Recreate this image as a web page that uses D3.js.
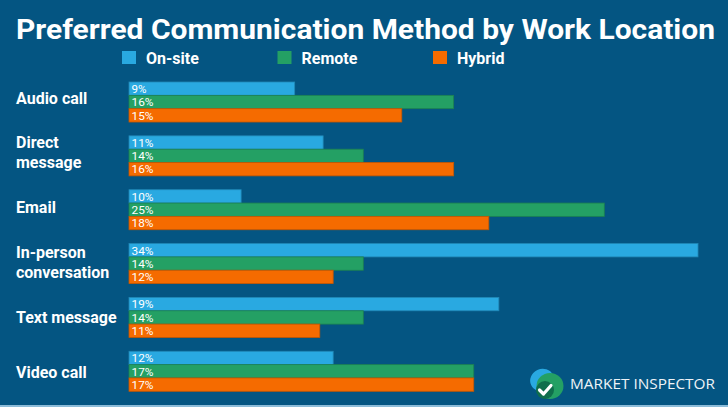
<!DOCTYPE html>
<html>
<head>
<meta charset="utf-8">
<script src="https://cdn.jsdelivr.net/npm/d3@7"></script>
<style>
  html, body { margin: 0; padding: 0; background: #045582; }
  svg { display: block; }
</style>
</head>
<body>
<div id="chart"></div>
<script>
// ---- data ----
const categories = ["Audio call", "Direct message", "Email", "In-person conversation", "Text message", "Video call"];
const seriesNames = ["On-site", "Remote", "Hybrid"];
// bar lengths as drawn in the picture (percent units)
const onsite = [9.9, 11.6, 6.7, 34.0, 22.1, 12.2];
const remote = [19.4, 14.0, 28.4, 14.0, 14.0, 20.6];
const hybrid = [16.3, 19.4, 21.5, 12.2, 11.4, 20.6];
// percentages printed on the bars
const onsiteLabels = ["9%", "11%", "10%", "34%", "19%", "12%"];
const remoteLabels = ["16%", "14%", "25%", "14%", "14%", "17%"];
const hybridLabels = ["15%", "16%", "18%", "12%", "11%", "17%"];
const seriesColors = ["#29a9e1", "#24a064", "#f56b00"];

const W = 728, H = 407;
const svg = d3.select("#chart").append("svg").attr("width", W).attr("height", H);
svg.append("rect").attr("width", W).attr("height", H).attr("fill", "#045582");

// title
const title = svg.append("text")
  .attr("x", 16).attr("y", 39)
  .attr("fill", "#ffffff")
  .style("font-family", "Roboto, 'Open Sans', sans-serif")
  .style("font-weight", 700).style("font-size", "27px")
  .text("Preferred Communication Method by Work Location");
title.attr("textLength", 699).attr("lengthAdjust", "spacingAndGlyphs");

// legend
const legendX = d3.scalePoint().domain(seriesNames).range([122, 433]);
const lg = svg.append("g").selectAll("g").data(seriesNames).join("g")
  .attr("transform", d => `translate(${legendX(d)},51)`);
lg.append("rect").attr("width", 14).attr("height", 13)
  .attr("fill", (d, i) => seriesColors[i]);
lg.append("text").attr("x", 24).attr("y", 13)
  .attr("fill", "#ffffff")
  .style("font-family", "Roboto, sans-serif").style("font-weight", 700).style("font-size", "16px")
  .text(d => d);

// scales
const x = d3.scaleLinear().domain([0, 34]).range([129, 698]);
const y = d3.scaleBand().domain(categories).range([82, 391.3]).paddingInner(0.257).paddingOuter(0);
const ySub = d3.scaleBand().domain(seriesNames).range([0, y.bandwidth()]);
const labelY = d3.scalePoint().domain(categories).range([97.5, 372]);

const rows = categories.map((c, i) => ({
  cat: c,
  bars: [
    { s: "On-site", v: onsite[i], lab: onsiteLabels[i], col: seriesColors[0] },
    { s: "Remote", v: remote[i], lab: remoteLabels[i], col: seriesColors[1] },
    { s: "Hybrid", v: hybrid[i], lab: hybridLabels[i], col: seriesColors[2] }
  ]
}));

const groups = svg.append("g").selectAll("g").data(rows).join("g")
  .attr("transform", d => `translate(0,${y(d.cat)})`);

groups.selectAll("rect").data(d => d.bars).join("rect")
  .attr("x", x(0))
  .attr("y", d => ySub(d.s))
  .attr("width", d => x(d.v) - x(0))
  .attr("height", ySub.bandwidth())
  .attr("fill", d => d.col)
  .attr("stroke", d => d3.color(d.col).darker(0.6))
  .attr("stroke-width", 0.8);

groups.selectAll("text").data(d => d.bars).join("text")
  .attr("x", x(0) + 2.5)
  .attr("y", d => ySub(d.s) + ySub.bandwidth() / 2 + 4.3)
  .attr("fill", "#ffffff")
  .style("font-family", "Roboto, sans-serif").style("font-size", "11.3px")
  .attr("textLength", d => d.lab.length === 2 ? 15 : 22)
  .attr("lengthAdjust", "spacingAndGlyphs")
  .text(d => d.lab);

// category labels
const catText = svg.append("g").selectAll("text").data(categories).join("text")
  .attr("x", 16)
  .attr("fill", "#ffffff")
  .style("font-family", "Roboto, sans-serif").style("font-weight", 700).style("font-size", "16px");
catText.each(function (d) {
  const t = d3.select(this);
  t.text(d);
  const w = this.getComputedTextLength();
  const cy = labelY(d);
  if (w > 108) {
    const k = d.lastIndexOf(" ");
    const lines = [d.slice(0, k), d.slice(k + 1)];
    t.text(null);
    lines.forEach((ln, j) => {
      t.append("tspan").attr("x", 16).attr("y", cy - 4.5 + j * 20).text(ln);
    });
  } else {
    t.attr("y", cy + 6);
  }
});

// logo
const logo = svg.append("g");
logo.append("ellipse").attr("cx", 542).attr("cy", 380).attr("rx", 12).attr("ry", 11)
  .attr("transform", "rotate(-25,542,380)").attr("fill", "#29a9e1");
logo.append("ellipse").attr("cx", 550).attr("cy", 386).attr("rx", 13.5).attr("ry", 13)
  .attr("fill", "#24a064");
logo.append("circle").attr("cx", 545).attr("cy", 390).attr("r", 9).attr("fill", "#0f6e4c");
logo.append("path").attr("d", "M539.5,390 L543.5,394 L551,385.5")
  .attr("fill", "none").attr("stroke", "#ffffff").attr("stroke-width", 3.2)
  .attr("stroke-linecap", "round").attr("stroke-linejoin", "round");
logo.append("text").attr("x", 570).attr("y", 389)
  .attr("fill", "#eef3f7")
  .style("font-family", "'Open Sans', 'DejaVu Sans', sans-serif").style("font-size", "15px")
  .attr("textLength", 145).attr("lengthAdjust", "spacingAndGlyphs")
  .text("MARKET INSPECTOR");

// bottom strip
svg.append("rect").attr("x", 0).attr("y", 405).attr("width", W).attr("height", 2).attr("fill", "#8cbcd9");
</script>
</body>
</html>
